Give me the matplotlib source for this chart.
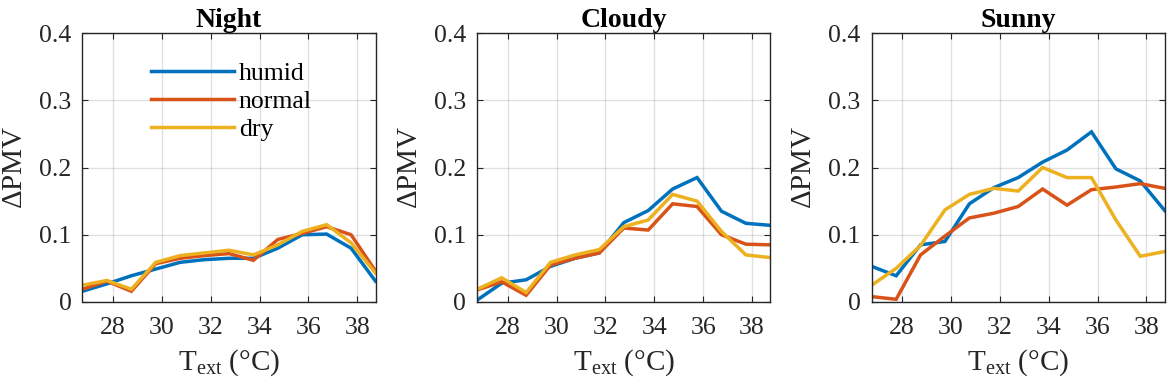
import matplotlib
matplotlib.use("Agg")
import matplotlib.pyplot as plt

plt.rcParams['font.family'] = ['Liberation Serif', 'DejaVu Serif']
plt.rcParams['mathtext.fontset'] = 'custom'
plt.rcParams['mathtext.rm'] = 'Liberation Serif'
plt.rcParams['mathtext.it'] = 'Liberation Serif:italic'
plt.rcParams['mathtext.bf'] = 'Liberation Serif:bold'

# External temperature (°C)
temps = [26.75, 27.75, 28.75, 29.75, 30.75, 31.75, 32.75,
         33.75, 34.75, 35.75, 36.75, 37.75, 38.75]

titles = ["Night", "Cloudy", "Sunny"]
series_names = ["humid", "normal", "dry"]

night_humid = [0.016, 0.027, 0.039, 0.049, 0.059, 0.063, 0.065, 0.065, 0.080, 0.100, 0.101, 0.080, 0.031]
night_normal = [0.019, 0.031, 0.016, 0.057, 0.065, 0.069, 0.072, 0.062, 0.093, 0.102, 0.112, 0.100, 0.046]
night_dry = [0.025, 0.032, 0.019, 0.059, 0.069, 0.073, 0.077, 0.070, 0.085, 0.105, 0.115, 0.088, 0.043]

cloudy_humid = [0.003, 0.028, 0.033, 0.053, 0.065, 0.073, 0.118, 0.136, 0.168, 0.185, 0.135, 0.117, 0.114]
cloudy_normal = [0.018, 0.030, 0.010, 0.055, 0.065, 0.073, 0.110, 0.107, 0.146, 0.142, 0.100, 0.086, 0.085]
cloudy_dry = [0.019, 0.036, 0.014, 0.059, 0.070, 0.078, 0.112, 0.122, 0.160, 0.150, 0.105, 0.070, 0.066]

sunny_humid = [0.053, 0.039, 0.085, 0.090, 0.146, 0.170, 0.185, 0.208, 0.226, 0.253, 0.198, 0.180, 0.136]
sunny_normal = [0.008, 0.004, 0.070, 0.098, 0.125, 0.132, 0.142, 0.168, 0.144, 0.167, 0.171, 0.176, 0.169]
sunny_dry = [0.025, 0.050, 0.084, 0.137, 0.160, 0.169, 0.165, 0.200, 0.185, 0.185, 0.122, 0.068, 0.075]

panels = [
    [night_humid, night_normal, night_dry],
    [cloudy_humid, cloudy_normal, cloudy_dry],
    [sunny_humid, sunny_normal, sunny_dry],
]

xticks = [28, 30, 32, 34, 36, 38]
yticks = [0, 0.1, 0.2, 0.3, 0.4]
ytick_labels = ["0", "0.1", "0.2", "0.3", "0.4"]

colors = [(0.0, 0.447, 0.741), (0.850, 0.325, 0.098), (0.929, 0.694, 0.125)]
axcol = (0.15, 0.15, 0.15)

W, H = 1169, 390
fig = plt.figure(figsize=(W / 100, H / 100), dpi=100)
lefts_px = [82.5, 477.3, 871.7]
aw_px = 293.0
bottom_px, top_px = 302.0, 33.0

for i, (title, data) in enumerate(zip(titles, panels)):
    ax = fig.add_axes([lefts_px[i] / W, (H - bottom_px) / H,
                       aw_px / W, (bottom_px - top_px) / H])
    for name, vals, c in zip(series_names, data, colors):
        ax.plot(temps, vals, color=c, lw=2.5, label=name, solid_joinstyle='miter')
    ax.set_xlim(temps[0], temps[-1])
    ax.set_ylim(0, 0.4)
    ax.set_xticks(xticks)
    ax.set_yticks(yticks)
    ax.set_yticklabels(ytick_labels)
    ax.grid(True, color=(0.15, 0.15, 0.15), alpha=0.14, lw=1.0)
    ax.tick_params(direction='in', length=4, width=0.8, colors=axcol,
                   labelsize=18.5, top=True, right=True)
    ax.tick_params(axis='x', pad=11)
    ax.tick_params(axis='y', pad=8)
    for sp in ax.spines.values():
        sp.set_color(axcol)
        sp.set_linewidth(1.0)
    ax.set_title(title, fontsize=20, fontweight='bold', pad=4, color='black')
    ax.set_ylabel(r"$\Delta$PMV", fontsize=21, color=axcol, labelpad=8)
    ax.set_xlabel(r"T$_{\mathrm{ext}}$ (°C)", fontsize=21, color=axcol, labelpad=6)
    if i == 0:
        leg = ax.legend(loc='upper left', bbox_to_anchor=(0.235, 0.894),
                        frameon=False, fontsize=18.5, handlelength=3.2,
                        handletextpad=0.2, labelspacing=0.2, borderpad=0,
                        borderaxespad=0)
        for t in leg.get_texts():
            t.set_color('black')

fig.savefig("out.png", dpi=100)
